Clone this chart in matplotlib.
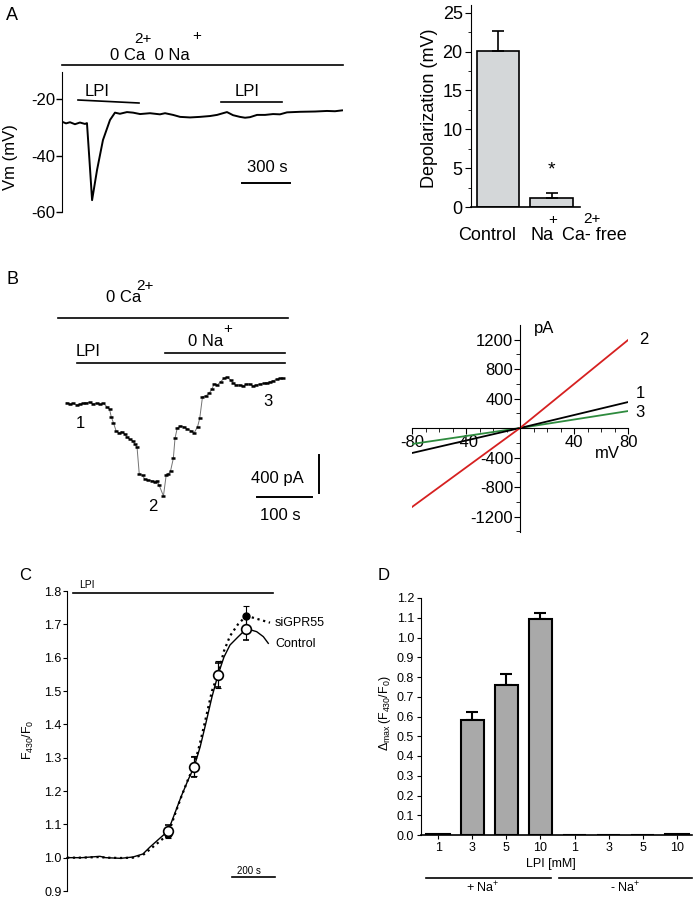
import numpy as np
import matplotlib
matplotlib.use("Agg")
import matplotlib.pyplot as plt
from matplotlib.lines import Line2D
from matplotlib.ticker import MultipleLocator, FormatStrFormatter

plt.rcParams["font.family"] = ["Liberation Sans", "DejaVu Sans"]
plt.rcParams["mathtext.fontset"] = "custom"
plt.rcParams["mathtext.rm"] = "Liberation Sans"
plt.rcParams["mathtext.it"] = "Liberation Sans:italic"
plt.rcParams["mathtext.bf"] = "Liberation Sans:bold"
plt.rcParams["axes.unicode_minus"] = False

W, H = 697, 898

# ---- A: membrane potential trace (s, mV)
vm_time = [0, 25, 50, 81, 112, 144, 156, 172, 188, 219, 256, 300, 331, 362, 406, 444,
           488, 550, 612, 644, 694, 738, 800, 862, 925, 969, 1006, 1031, 1069, 1112,
           1144, 1175, 1219, 1269, 1319, 1362, 1406, 1488, 1581, 1656, 1706, 1750]
vm_mv = [-28.0, -28.6, -28.2, -28.9, -28.3, -28.8, -28.5, -42.0, -55.8, -45.1, -34.5,
         -27.4, -24.8, -25.2, -24.6, -24.8, -25.3, -25.0, -25.4, -25.0, -25.6, -26.3,
         -26.5, -26.3, -26.0, -25.6, -25.0, -24.6, -25.7, -26.3, -26.6, -26.4, -25.6,
         -25.6, -25.3, -25.4, -24.7, -24.5, -24.4, -24.2, -24.3, -24.0]

# ---- A: depolarization bars
dep_mean = [20.1, 1.1]
dep_sem = [2.6, 0.7]

# ---- B: holding current trace (s, pA)
b_time = [3, 9, 15, 21, 27, 33, 39, 45, 51, 58, 64, 70, 76, 81, 84, 88, 93, 98, 103,
          109, 112, 118, 123, 127, 131, 135, 141, 145, 151, 158, 164, 168, 171, 179,
          184, 188, 192, 197, 200, 204, 210, 216, 222, 229, 235, 241, 245, 250, 256,
          262, 267, 271, 277, 283, 289, 295, 301, 305, 311, 318, 324, 330, 336, 342,
          348, 355, 361, 367, 373, 379, 385, 391, 397]
b_current = [3, -11, -3, -21, -11, -3, 3, 7, -11, -3, -14, -3, -39, -66, -144, -207,
             -295, -313, -302, -326, -355, -382, -397, -432, -466, -747, -761, -803,
             -811, -818, -829, -821, -863, -979, -758, -747, -713, -582, -372, -266,
             -242, -250, -271, -292, -313, -250, -161, 66, 74, 102, 144, 200, 190, 224,
             260, 271, 242, 214, 190, 190, 179, 200, 200, 179, 190, 200, 207, 214, 224,
             235, 250, 260, 260]

# ---- B: I-V relations (mV, pA)
iv_mv = [-80, 0, 80]
iv_1 = [-339, 0, 352]
iv_2 = [-1071, 0, 1193]
iv_3 = [-217, 0, 230]

# ---- C: F430/F0 time course
c_time = [0, 70, 153, 180, 250, 307, 353, 386, 433, 470, 502, 530, 563, 591, 619,
          646, 674, 702, 730, 758, 795, 833]
c_control = [1.0, 1.0, 1.004, 1.0, 0.998, 1.002, 1.011, 1.032, 1.059, 1.08, 1.134,
             1.182, 1.233, 1.272, 1.332, 1.404, 1.482, 1.548, 1.602, 1.638, 1.662, 1.686]
c_sigpr55 = [1.0, 1.0, 1.002, 1.0, 0.999, 1.0, 1.008, 1.025, 1.05, 1.07, 1.13, 1.18,
             1.235, 1.275, 1.345, 1.42, 1.5, 1.55, 1.62, 1.665, 1.70, 1.725]
pt_time = [470, 591, 702, 833]
pt_control = [1.08, 1.272, 1.548, 1.686]
pt_control_err = [0.018, 0.03, 0.037, 0.032]
pt_sigpr55 = [1.07, 1.275, 1.55, 1.725]
pt_sigpr55_err = [0.012, 0.03, 0.04, 0.03]

# ---- D: delta max
lpi_doses = ["1", "3", "5", "10", "1", "3", "5", "10"]
delta_mean = [0.006, 0.58, 0.76, 1.095, 0.002, 0.002, 0.002, 0.003]
delta_sem = [0, 0.045, 0.055, 0.03, 0, 0, 0, 0]

fig = plt.figure(figsize=(W / 100, H / 100), dpi=100)


def px_axes(x0, y0, x1, y1):
    return fig.add_axes([x0 / W, 1 - y1 / H, (x1 - x0) / W, (y1 - y0) / H])


def ftext(x, y, s, size=12, ha="center", va="center", **kw):
    fig.text(x / W, 1 - y / H, s, fontsize=size, ha=ha, va=va, **kw)


def fline(x0, x1, y0, y1=None, lw=1.2):
    if y1 is None:
        y1 = y0
    fig.add_artist(Line2D([x0 / W, x1 / W], [1 - y0 / H, 1 - y1 / H], color="k", lw=lw))


def only_left(ax):
    for s in ["top", "right", "bottom"]:
        ax.spines[s].set_visible(False)
    ax.set_xticks([])


# ================= A left: trace
axA = px_axes(62, 72, 343, 212)
axA.plot(vm_time, vm_mv, color="k", lw=1.4)
axA.set_xlim(0, 1756)
axA.set_ylim(-60, -10.4)
only_left(axA)
axA.set_yticks([-60, -40, -20])
axA.tick_params(axis="y", direction="out", length=4, width=1, labelsize=12, pad=1)
axA.patch.set_visible(False)

ftext(12, 15, "A", size=13)
ftext(150, 55, "0 Ca  0 Na", size=12)
ftext(143, 39, "2+", size=11)
ftext(197, 36, "+", size=11)
fline(62, 343, 65)
ftext(97, 91, "LPI", size=12)
ftext(247, 91, "LPI", size=12)
fline(78, 139, 100, 103)
fline(221, 282, 102)
ftext(267, 168, "300 s", size=12)
fline(242, 290, 183, lw=1.4)
ftext(10, 157, "Vm (mV)", size=12, rotation=90)

# ================= A right: bars
axBar = px_axes(471, 5, 580, 207)
axBar.bar([0, 1], dep_mean, width=0.79, color="#d4d7d9", edgecolor="k", lw=1.2,
          yerr=[[0, 0], dep_sem], capsize=4,
          error_kw=dict(elinewidth=1.2, capthick=1.2, ecolor="k"))
axBar.set_xlim(-0.5, 1.53)
axBar.set_ylim(0, 26)
for s in ["top", "right"]:
    axBar.spines[s].set_visible(False)
axBar.spines["bottom"].set_linewidth(1.2)
axBar.set_xticks([])
axBar.set_yticks([0, 5, 10, 15, 20, 25])
axBar.yaxis.set_minor_locator(MultipleLocator(2.5))
axBar.tick_params(axis="y", which="major", direction="out", length=4, labelsize=13, pad=2)
axBar.tick_params(axis="y", which="minor", direction="out", length=2.5)
ftext(430, 108, "Depolarization (mV)", size=13, rotation=90)
ftext(551, 170, "*", size=14)
ftext(487, 236, "Control", size=13)
ftext(531, 236, "Na", size=13, ha="left")
ftext(553, 220, "+", size=11)
ftext(562, 236, "Ca- free", size=13, ha="left")
ftext(592, 219, "2+", size=11)

# ================= B left: current trace
axB = px_axes(40, 270, 340, 530)
axB.axis("off")
axB.plot(b_time, b_current, color="0.45", lw=0.7, marker="_", ms=3.5, mec="k", mew=1.8)
axB.set_xlim(-45.45, 500)
axB.set_ylim(-1336.8, 1400)

ftext(12, 280, "B", size=13)
ftext(124, 298, "0 Ca", size=12)
ftext(145, 286, "2+", size=11)
fline(58, 288, 318)
ftext(206, 341, "0 Na", size=12)
ftext(228, 329, "+", size=11)
fline(165, 285, 353)
ftext(88, 351, "LPI", size=12)
fline(77, 285, 363)
ftext(80, 423, "1", size=12)
ftext(268, 401, "3", size=12)
ftext(153, 507, "2", size=12)
ftext(277, 479, "400 pA", size=12)
fline(319, 319, 455, 493, lw=1.4)
ftext(280, 516, "100 s", size=12)
fline(257, 312, 497, lw=1.4)

# ================= B right: I-V
axIV = px_axes(412, 325, 628, 532)
axIV.plot(iv_mv, iv_3, color="#2e8b3e", lw=1.3)
axIV.plot(iv_mv, iv_1, color="k", lw=1.3)
axIV.plot(iv_mv, iv_2, color="#d62020", lw=1.3)
axIV.set_xlim(-80, 80)
axIV.set_ylim(-1410, 1397)
axIV.spines["left"].set_position(("data", 0))
axIV.spines["bottom"].set_position(("data", 0))
for s in ["top", "right"]:
    axIV.spines[s].set_visible(False)
axIV.set_xticks([-80, -40, 40, 80])
axIV.xaxis.set_minor_locator(MultipleLocator(10))
axIV.set_yticks([-1200, -800, -400, 400, 800, 1200])
axIV.yaxis.set_minor_locator(MultipleLocator(200))
axIV.tick_params(which="major", direction="out", length=4, labelsize=12, pad=1)
axIV.tick_params(which="minor", direction="out", length=3)
axIV.patch.set_visible(False)
ftext(544, 328, "pA", size=12)
ftext(607, 454, "mV", size=12)
ftext(644, 340, "2", size=12)
ftext(640, 394, "1", size=12)
ftext(640, 412, "3", size=12)

# ================= C: time course
axC = px_axes(67, 591, 290, 891)
axC.plot(c_time, c_sigpr55, color="k", ls=":", lw=1.6)
axC.plot(c_time, c_control, color="k", ls="-", lw=1.0)
axC.errorbar(pt_time, pt_sigpr55, yerr=pt_sigpr55_err, fmt="o", color="k", ms=5,
             capsize=2.5, elinewidth=0.8, capthick=0.8)
axC.errorbar(pt_time, pt_control, yerr=pt_control_err, fmt="o", mfc="white", mec="k",
             ecolor="k", ms=7, mew=1.2, capsize=2.5, elinewidth=0.8, capthick=0.8)
axC.plot([833, 944], [1.726, 1.705], color="k", ls=":", lw=1.6)
axC.plot([840, 882, 913, 936], [1.686, 1.678, 1.663, 1.643], color="k", lw=1.0)
axC.set_xlim(0, 1037)
axC.set_ylim(0.9, 1.8)
only_left(axC)
axC.set_yticks(np.arange(0.9, 1.81, 0.1))
axC.yaxis.set_major_formatter(FormatStrFormatter("%.1f"))
axC.tick_params(axis="y", direction="out", length=3, labelsize=9, pad=1)
for art in axC.lines:
    art.set_clip_on(False)
axC.patch.set_visible(False)

ftext(25, 575, "C", size=12)
ftext(87, 585, "LPI", size=7.5)
fline(73, 273, 593)
ftext(275, 623, "siGPR55", size=9, ha="left")
ftext(275, 644, "Control", size=9, ha="left")
ftext(28, 740, r"F$_{430}$/F$_0$", size=9, rotation=90)
ftext(249, 871, "200 s", size=7)
fline(232, 275, 877)

# ================= D: bars
axD = px_axes(421, 598, 692, 835)
xpos = np.arange(len(delta_mean))
axD.bar(xpos, delta_mean, width=0.68, color="#a9a9a9", edgecolor="k", lw=1.5, zorder=2)
has_err = [i for i, e in enumerate(delta_sem) if e > 0]
axD.errorbar([xpos[i] for i in has_err], [delta_mean[i] for i in has_err],
             yerr=[[0] * len(has_err), [delta_sem[i] for i in has_err]], fmt="none",
             ecolor="k", elinewidth=1.5, capsize=4.5, capthick=1.5, zorder=1)
axD.set_xlim(-0.5, 7.44)
axD.set_ylim(0, 1.2)
for s in ["top", "right"]:
    axD.spines[s].set_visible(False)
axD.spines["bottom"].set_linewidth(1.2)
axD.set_xticks(xpos)
axD.set_xticklabels(lpi_doses)
axD.set_yticks(np.arange(0, 1.21, 0.1))
axD.yaxis.set_major_formatter(FormatStrFormatter("%.1f"))
axD.tick_params(direction="out", length=3, labelsize=9, pad=2)

ftext(384, 575, "D", size=12)
ftext(385, 713, r"$\Delta_{\rm max}\,$(F$_{430}$/F$_0$)", size=9, rotation=90)
ftext(551, 864, "LPI [mM]", size=9)
fline(426, 551, 878)
fline(559, 692, 878)
ftext(483, 888, r"+ Na$^{+}$", size=9)
ftext(625, 888, r"- Na$^{+}$", size=9)

fig.savefig("out.png", dpi=100)
